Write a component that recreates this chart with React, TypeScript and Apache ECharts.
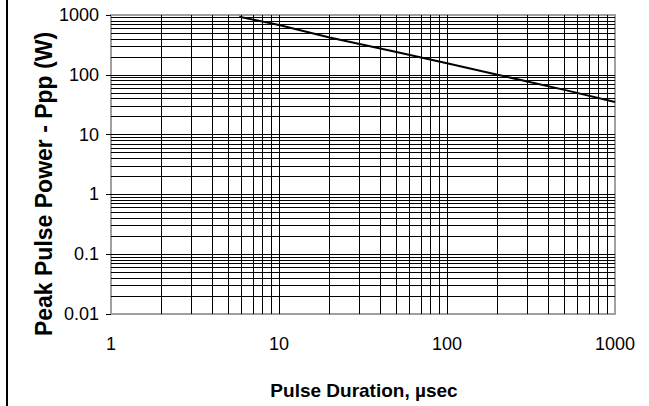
import React, { useEffect, useRef } from "react";
import * as echarts from "echarts";

// Pulse duration (µs) and peak pulse power (W)
const pulseDuration = [5.8, 10, 20, 50, 100, 200, 500, 1000];
const peakPower = [935, 680, 420, 240, 156, 100, 56, 35];

const xTickValues = [1, 10, 100, 1000];
const xTickLabels = ["1", "10", "100", "1000"];
const yTickValues = [0.01, 0.1, 1, 10, 100, 1000];
const yTickLabels = ["0.01", "0.1", "1", "10", "100", "1000"];

const xTitle = "Pulse Duration, µsec";
const yTitle = "Peak Pulse Power - Ppp (W)";

const minorSteps = [2, 3, 4, 5, 6, 7, 8, 9];

function nearestLabel(v: number, vals: number[], labels: string[]) {
  let best = 0;
  let bd = Infinity;
  vals.forEach((t, i) => {
    const d = Math.abs(Math.log10(v) - Math.log10(t));
    if (d < bd) {
      bd = d;
      best = i;
    }
  });
  return bd < 0.01 ? labels[best] : "";
}

const FONT = "'Liberation Sans', Arial, Helvetica, sans-serif";

export default function App() {
  const ref = useRef<HTMLDivElement>(null);

  useEffect(() => {
    if (!ref.current) return;
    const chart = echarts.init(ref.current, undefined, { renderer: "svg" });

    const xMinor: number[] = [];
    xTickValues.slice(0, -1).forEach((d) => minorSteps.forEach((m) => xMinor.push(d * m)));
    const yMinor: number[] = [];
    yTickValues.slice(0, -1).forEach((d) => minorSteps.forEach((m) => yMinor.push(+(d * m).toPrecision(6))));

    const gridLine = { color: "#000", width: 1, type: "solid" as const };

    chart.setOption({
      animation: false,
      backgroundColor: "#fff",
      grid: {
        left: 111,
        top: 15,
        width: 504,
        height: 299,
        show: true,
        borderColor: "#a0a0a0",
        borderWidth: 2,
        backgroundColor: "#fff",
      },
      xAxis: {
        type: "log",
        logBase: 10,
        min: 1,
        max: 1000,
        axisLine: { show: false },
        axisTick: { show: false },
        splitLine: { show: true, showMinLine: false, showMaxLine: false, lineStyle: gridLine },
        axisLabel: {
          color: "#000",
          fontFamily: FONT,
          fontSize: 18,
          margin: 21,
          formatter: (v: number) => nearestLabel(v, xTickValues, xTickLabels),
        },
      },
      yAxis: {
        type: "log",
        logBase: 10,
        min: 0.01,
        max: 1000,
        axisLine: { show: false },
        axisTick: { show: true, length: 5, inside: false, lineStyle: { color: "#000", width: 1 } },
        splitLine: { show: true, showMinLine: false, showMaxLine: false, lineStyle: gridLine },
        axisLabel: {
          color: "#000",
          fontFamily: FONT,
          fontSize: 18,
          margin: 12,
          formatter: (v: number) => nearestLabel(v, yTickValues, yTickLabels),
        },
      },
      series: [
        {
          type: "line",
          data: pulseDuration.map((x, i) => [x, peakPower[i]]),
          symbol: "none",
          lineStyle: { color: "#000", width: 2 },
          z: 5,
          markLine: {
            silent: true,
            symbol: "none",
            label: { show: false },
            lineStyle: gridLine,
            data: [
              ...xMinor.map((v) => ({ xAxis: v })),
              ...yMinor.map((v) => ({ yAxis: v })),
            ],
          },
        },
      ],
      graphic: [
        {
          type: "line",
          shape: { x1: 7, y1: 0, x2: 7, y2: 406 },
          style: { stroke: "#000", lineWidth: 2 },
        },
        {
          type: "text",
          x: 44,
          y: 184,
          rotation: Math.PI / 2,
          style: {
            text: yTitle,
            font: `bold 23px ${FONT}`,
            fill: "#000",
            align: "center",
            verticalAlign: "middle",
          },
        },
        {
          type: "text",
          x: 364,
          y: 390,
          style: {
            text: xTitle,
            font: `bold 19px ${FONT}`,
            fill: "#000",
            align: "center",
            verticalAlign: "middle",
          },
        },
      ],
    });

    return () => chart.dispose();
  }, []);

  return (
    <div
      ref={ref}
      style={{ position: "absolute", left: 0, top: 0, width: 649, height: 406 }}
    />
  );
}
